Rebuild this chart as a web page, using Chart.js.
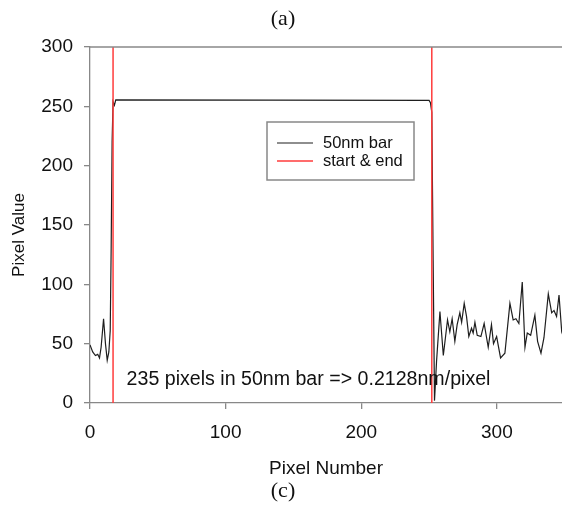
<!DOCTYPE html>
<html>
<head>
<meta charset="utf-8">
<script src="https://cdn.jsdelivr.net/npm/chart.js@4.4.0/dist/chart.umd.min.js"></script>
<style>
  html, body { margin: 0; padding: 0; background: #fff; }
  #wrap { width: 562px; height: 506px; position: relative; }
</style>
</head>
<body>
<div id="wrap"><canvas id="profile"></canvas></div>
<script>
// Line profile across the 50nm scale bar
const profileX = [0, 2, 4, 5.7, 7, 8.2, 10, 11.4, 12.7, 13.9, 14.9, 15.6, 16.3, 17, 18, 19,
  250, 251, 252, 253, 254, 255.5, 258, 260.5, 263.6, 265.3, 267, 269, 270.7, 272.7, 274,
  275.9, 277.6, 279.3, 281.3, 282.5, 283.8, 285.5, 288.2, 290.6, 293.6, 296, 297.5, 299.8,
  302.7, 305.9, 309.6, 312, 314, 316.2, 318.7, 320.7, 322.4, 324.9, 328, 330, 332.5, 334.7,
  337.9, 340.4, 342.1, 344, 345.8, 347.8, 349];
const profileY = [49, 43, 40, 41, 38, 47, 71, 50, 36, 43, 61, 130, 220, 254, 251, 255.5,
  255, 253, 245, 120, 2, 35, 77, 40, 70, 60, 71, 52, 66, 76, 68,
  84, 73, 56, 63, 59, 68, 57, 56, 67, 47, 66, 50, 56,
  38, 42, 84, 70, 71, 67, 102, 47, 59, 57, 74, 52, 42, 55,
  92, 76, 78, 73, 91, 60, 56];

// start & end markers
const edgeX = [17, 252];
const edgeRange = [0, 300];

const xTicks = [0, 100, 200, 300];
const yTicks = [0, 50, 100, 150, 200, 250, 300];
const seriesLabels = ["50nm bar", "start & end"];
const note = "235 pixels in 50nm bar => 0.2128nm/pixel";

const AXIS = "#888";
const INK = "#111";
const RED = "#ff3b3b";

Chart.defaults.font.family = '"Liberation Sans", Arial, sans-serif';
Chart.defaults.color = INK;

const datasets = [
  {
    label: seriesLabels[0],
    data: profileX.map((x, i) => ({ x: x, y: profileY[i] })),
    borderColor: "#1e1e1e",
    borderWidth: 1.2,
    pointRadius: 0,
    tension: 0,
    order: 2,
  },
];
edgeX.forEach((ex) => {
  datasets.push({
    label: seriesLabels[1],
    data: edgeRange.map((v) => ({ x: ex, y: v })),
    borderColor: RED,
    borderWidth: 1.5,
    pointRadius: 0,
    order: 1,
  });
});

const decor = {
  id: "decor",
  afterDraw(chart) {
    const { ctx, chartArea: a, scales } = chart;
    ctx.save();
    // top frame line
    ctx.strokeStyle = AXIS;
    ctx.lineWidth = 1.3;
    ctx.beginPath();
    ctx.moveTo(a.left, a.top);
    ctx.lineTo(a.right, a.top);
    ctx.stroke();

    // panel captions
    ctx.fillStyle = INK;
    ctx.textAlign = "center";
    ctx.textBaseline = "middle";
    ctx.font = '22px "Liberation Serif", serif';
    ctx.fillText("(a)", 283, 19);
    ctx.fillText("(c)", 283, 491);

    // y axis title (sits a bit below the middle in the original)
    ctx.save();
    ctx.translate(19, 235);
    ctx.rotate(-Math.PI / 2);
    ctx.font = '17px "Liberation Sans", Arial, sans-serif';
    ctx.fillText("Pixel Value", 0, 0);
    ctx.restore();

    // note inside plot
    ctx.textAlign = "left";
    ctx.font = '19.6px "Liberation Sans", Arial, sans-serif';
    ctx.fillText(note, scales.x.getPixelForValue(27), scales.y.getPixelForValue(19.5));

    // legend box
    const bx = 267, by = 122, bw = 147, bh = 58;
    ctx.fillStyle = "#fff";
    ctx.fillRect(bx, by, bw, bh);
    ctx.strokeStyle = AXIS;
    ctx.lineWidth = 1.5;
    ctx.strokeRect(bx, by, bw, bh);
    const rows = [
      { text: seriesLabels[0], color: "#1e1e1e", y: 143 },
      { text: seriesLabels[1], color: RED, y: 161 },
    ];
    ctx.font = '16.5px "Liberation Sans", Arial, sans-serif';
    rows.forEach((r) => {
      ctx.strokeStyle = r.color;
      ctx.lineWidth = r.color === RED ? 1.5 : 1.2;
      ctx.beginPath();
      ctx.moveTo(277, r.y);
      ctx.lineTo(313, r.y);
      ctx.stroke();
      ctx.fillStyle = INK;
      ctx.fillText(r.text, 323, r.y);
    });
    ctx.restore();
  },
};

new Chart(document.getElementById("profile"), {
  type: "line",
  data: { datasets: datasets },
  options: {
    responsive: true,
    maintainAspectRatio: false,
    animation: false,
    layout: { padding: { top: 47, right: 0, left: 0, bottom: 0 } },
    plugins: {
      legend: { display: false },
      tooltip: { enabled: false },
    },
    scales: {
      x: {
        type: "linear",
        min: 0,
        max: 348,
        afterBuildTicks: (s) => { s.ticks = xTicks.map((v) => ({ value: v })); },
        afterFit: (s) => { s.height = 103; },
        grid: { drawOnChartArea: false, color: AXIS, tickLength: 6, lineWidth: 1.3 },
        border: { color: AXIS, width: 1.3 },
        ticks: { font: { size: 19 }, padding: 12, maxRotation: 0 },
        title: {
          display: true,
          text: "Pixel Number",
          font: { size: 19 },
          padding: { top: 0, bottom: 26 },
        },
      },
      y: {
        min: 0,
        max: 300,
        afterBuildTicks: (s) => { s.ticks = yTicks.map((v) => ({ value: v })); },
        afterFit: (s) => { s.width = 90; },
        grid: { drawOnChartArea: false, color: AXIS, tickLength: 6, lineWidth: 1.3 },
        border: { color: AXIS, width: 1.3 },
        ticks: { font: { size: 19 }, padding: 11 },
      },
    },
  },
  plugins: [decor],
});
</script>
</body>
</html>
